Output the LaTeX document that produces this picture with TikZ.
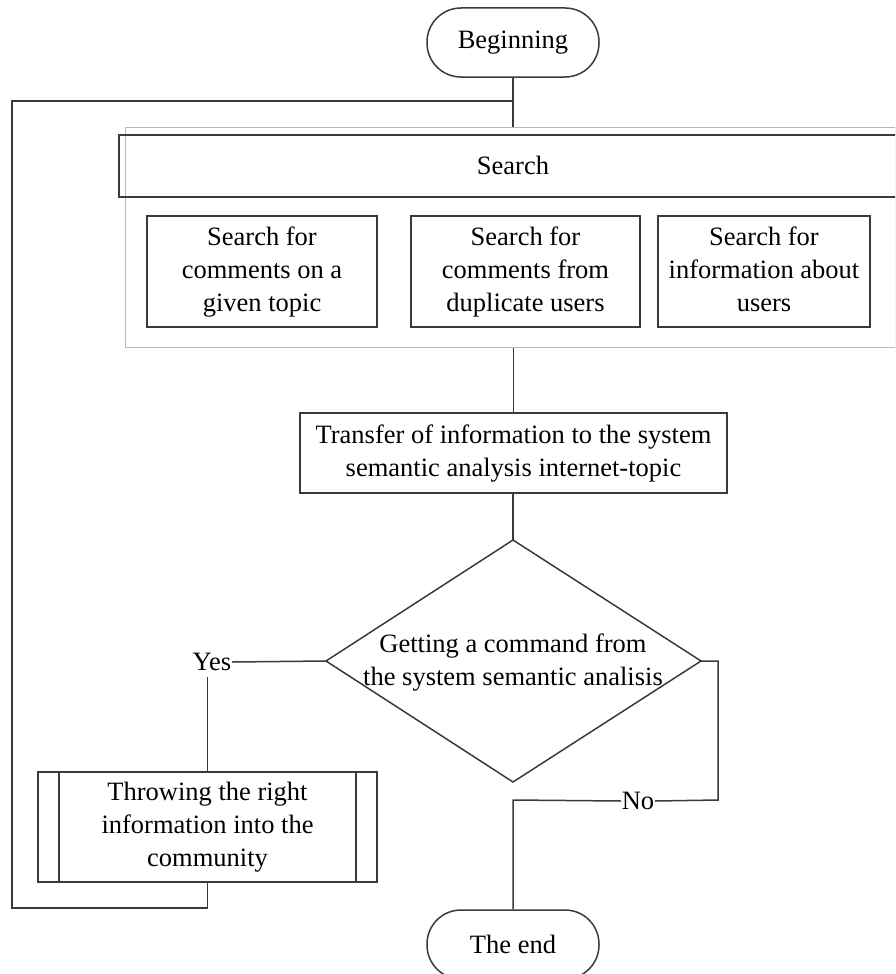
\documentclass[tikz,border=0pt]{standalone}
\usepackage{fontspec}
\setmainfont{Liberation Serif}
\usetikzlibrary{calc}
\definecolor{ln}{HTML}{3A3A3A}
\begin{document}
\begin{tikzpicture}[x=1pt,y=-1pt,
  line width=1.5pt, draw=ln,
  every node/.style={font=\fontsize{26.5}{33}\selectfont, text=black, align=center, inner sep=0pt},
  term/.style={draw=ln, rounded corners=34pt, minimum width=172pt, minimum height=69pt},
  proc/.style={draw=ln, rectangle},
  lbl/.style={fill=none}
]
\useasboundingbox (0,0) rectangle (895,974);
\begin{scope}
\clip (0,0) rectangle (895,974);
% start
\node[term] (begin) at (513,42.5) {Beginning};
% outer container
\node[draw=gray!55, line width=1.3pt, minimum width=770pt, minimum height=220pt, anchor=north west] (outer) at (125,127) {};
% search bar
\node[proc, minimum width=800pt, minimum height=62pt, anchor=north west] (bar) at (118,134) {};
\node (search) at (513,165) {Search};
% sub boxes
\node[proc, minimum width=230pt, minimum height=111pt] (s1) at (262,271.5) {\strut Search for\\comments on a\\given topic\strut};
\node[proc, minimum width=229pt, minimum height=111pt] (s2) at (525.5,271.5) {\strut Search for\\comments from\\duplicate users\strut};
\node[proc, minimum width=212pt, minimum height=111pt] (s3) at (764,271.5) {\strut Search for\\information about\\users\strut};
% transfer
\node[proc, minimum width=427pt, minimum height=80pt] (transfer) at (513.5,453) {\strut Transfer of information to the system\\semantic analysis internet-topic\strut};
% decision
\path (513,540) coordinate (dtop) (326,661) coordinate (dleft) (701,661) coordinate (dright) (513,782) coordinate (dbot);
\draw (dtop) -- (dright) -- (dbot) -- (dleft) -- cycle;
\node (dia) at (513,662) {\strut Getting a command from\\the system semantic analisis\strut};
% predefined process
\node[proc, minimum width=339pt, minimum height=110pt] (pp) at (207.5,827) {\strut Throwing the right\\information into the\\community\strut};
\draw (59,772) -- (59,882) (356,772) -- (356,882);
% end
\node[term] (end) at (513,944.5) {The end};
% labels
\node[lbl] (yes) at (212,662) {Yes};
\node[lbl] (no) at (638,801) {No};
% coordinates
\coordinate (loopA) at (513,101);
\coordinate (loopB) at (12,101);
\coordinate (loopC) at (12,908);
\coordinate (loopD) at (207.5,908);
\coordinate (nA) at (718,661);
\coordinate (nB) at (718,800);
\coordinate (nC) at (513,800);
% connectors
\draw (begin.south) -- (outer.north -| begin.south);
\draw (loopA) -- (loopB) -- (loopC) -- (loopD) -- (pp.south);
\draw (outer.south -| transfer.north) -- (transfer.north);
\draw (transfer.south -| dtop) -- (dtop);
\draw (dleft) -- (yes.east);
\draw ($(pp.north)+(0,-94)$) -- (pp.north);
\draw (dright) -- (nA) -- (nB) -- (no.east);
\draw (no.west) -- (nC) -- (end.north);
\end{scope}
\end{tikzpicture}
\end{document}
